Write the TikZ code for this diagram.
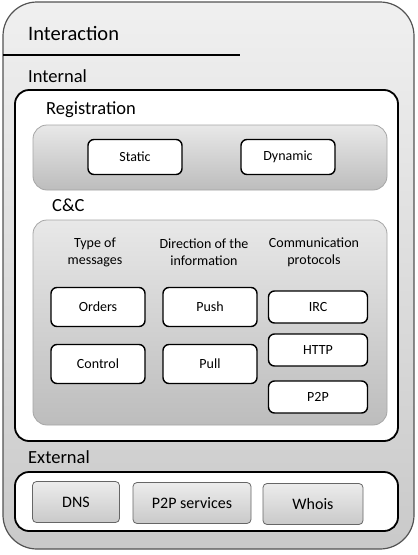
\documentclass[tikz,border=0pt]{standalone}
\usepackage{fontspec}
\setmainfont{Carlito}
\usetikzlibrary{positioning}

\tikzset{
  title/.style={anchor=west, inner sep=0pt, font=\fontsize{20.5}{24}\selectfont},
  heading/.style={anchor=west, inner sep=0pt, font=\fontsize{18.5}{22}\selectfont},
  colhead/.style={align=center, inner sep=0pt, font=\fontsize{14}{17}\selectfont},
  panel/.style={draw=black, line width=1.8pt, fill=white, rounded corners=14pt},
  graypanel/.style={draw=gray!70, line width=0.8pt, rounded corners=14pt, top color=gray!18, bottom color=gray!52},
  itembox/.style={draw=black, line width=1.4pt, fill=white, rounded corners=6pt, font=\fontsize{14}{17}\selectfont},
  grayitem/.style={draw=gray!80!black, line width=0.8pt, rounded corners=4pt, top color=gray!15, bottom color=gray!42, font=\fontsize{16}{19}\selectfont},
}

\begin{document}
\begin{tikzpicture}[x=1pt, y=-1pt, line join=round]
  \useasboundingbox (0,0) rectangle (418,555);
  % outer frame
  \draw[draw=gray!65!black, line width=1.2pt, rounded corners=34pt, top color=gray!12, bottom color=gray!42]
    (3,2) rectangle (414,549);
  \node[title] (interaction) at (28,33) {Interaction};
  \draw[line width=2pt] (3,55) -- (240,55);

  % internal part
  \node[heading] (internal) at (28,76) {Internal};
  \draw[panel] (15,90) rectangle (398,441);
  \node[heading] (registration) at (46,110) {Registration};
  \draw[graypanel] (33,125) rectangle (387,190);
  \node[itembox, minimum width=94, minimum height=35] (static) at (135,157) {Static};
  \node[itembox, minimum width=94, minimum height=35] (dynamic) at (288,157) {Dynamic};

  \node[heading] (cc) at (52,205) {C\&C};
  \draw[graypanel] (33,220) rectangle (387,425);
  \node[colhead] (typehead) at (95,252) {Type of\\messages};
  \node[colhead] (dirhead) at (204,252) {Direction of the\\information};
  \node[colhead] (protohead) at (314,252) {Communication\\protocols};
  \node[itembox, minimum width=94, minimum height=39] (orders) at (98,307) {Orders};
  \node[itembox, minimum width=94, minimum height=39] (control) at (98,364) {Control};
  \node[itembox, minimum width=94, minimum height=39] (push) at (210,307) {Push};
  \node[itembox, minimum width=94, minimum height=39] (pull) at (210,364) {Pull};
  \node[itembox, minimum width=99, minimum height=32] (irc) at (318,307) {IRC};
  \node[itembox, minimum width=99, minimum height=32] (http) at (318,350) {HTTP};
  \node[itembox, minimum width=99, minimum height=32] (ptp) at (318,397) {P2P};

  % external part
  \node[heading] (external) at (28,457) {External};
  \draw[panel] (15,472) rectangle (398,531);
  \node[grayitem, minimum width=87, minimum height=41] (dns) at (76,502) {DNS};
  \node[grayitem, minimum width=118, minimum height=41] (p2psrv) at (192,503) {P2P services};
  \node[grayitem, minimum width=100, minimum height=41] (whois) at (313,504) {Whois};
\end{tikzpicture}
\end{document}
